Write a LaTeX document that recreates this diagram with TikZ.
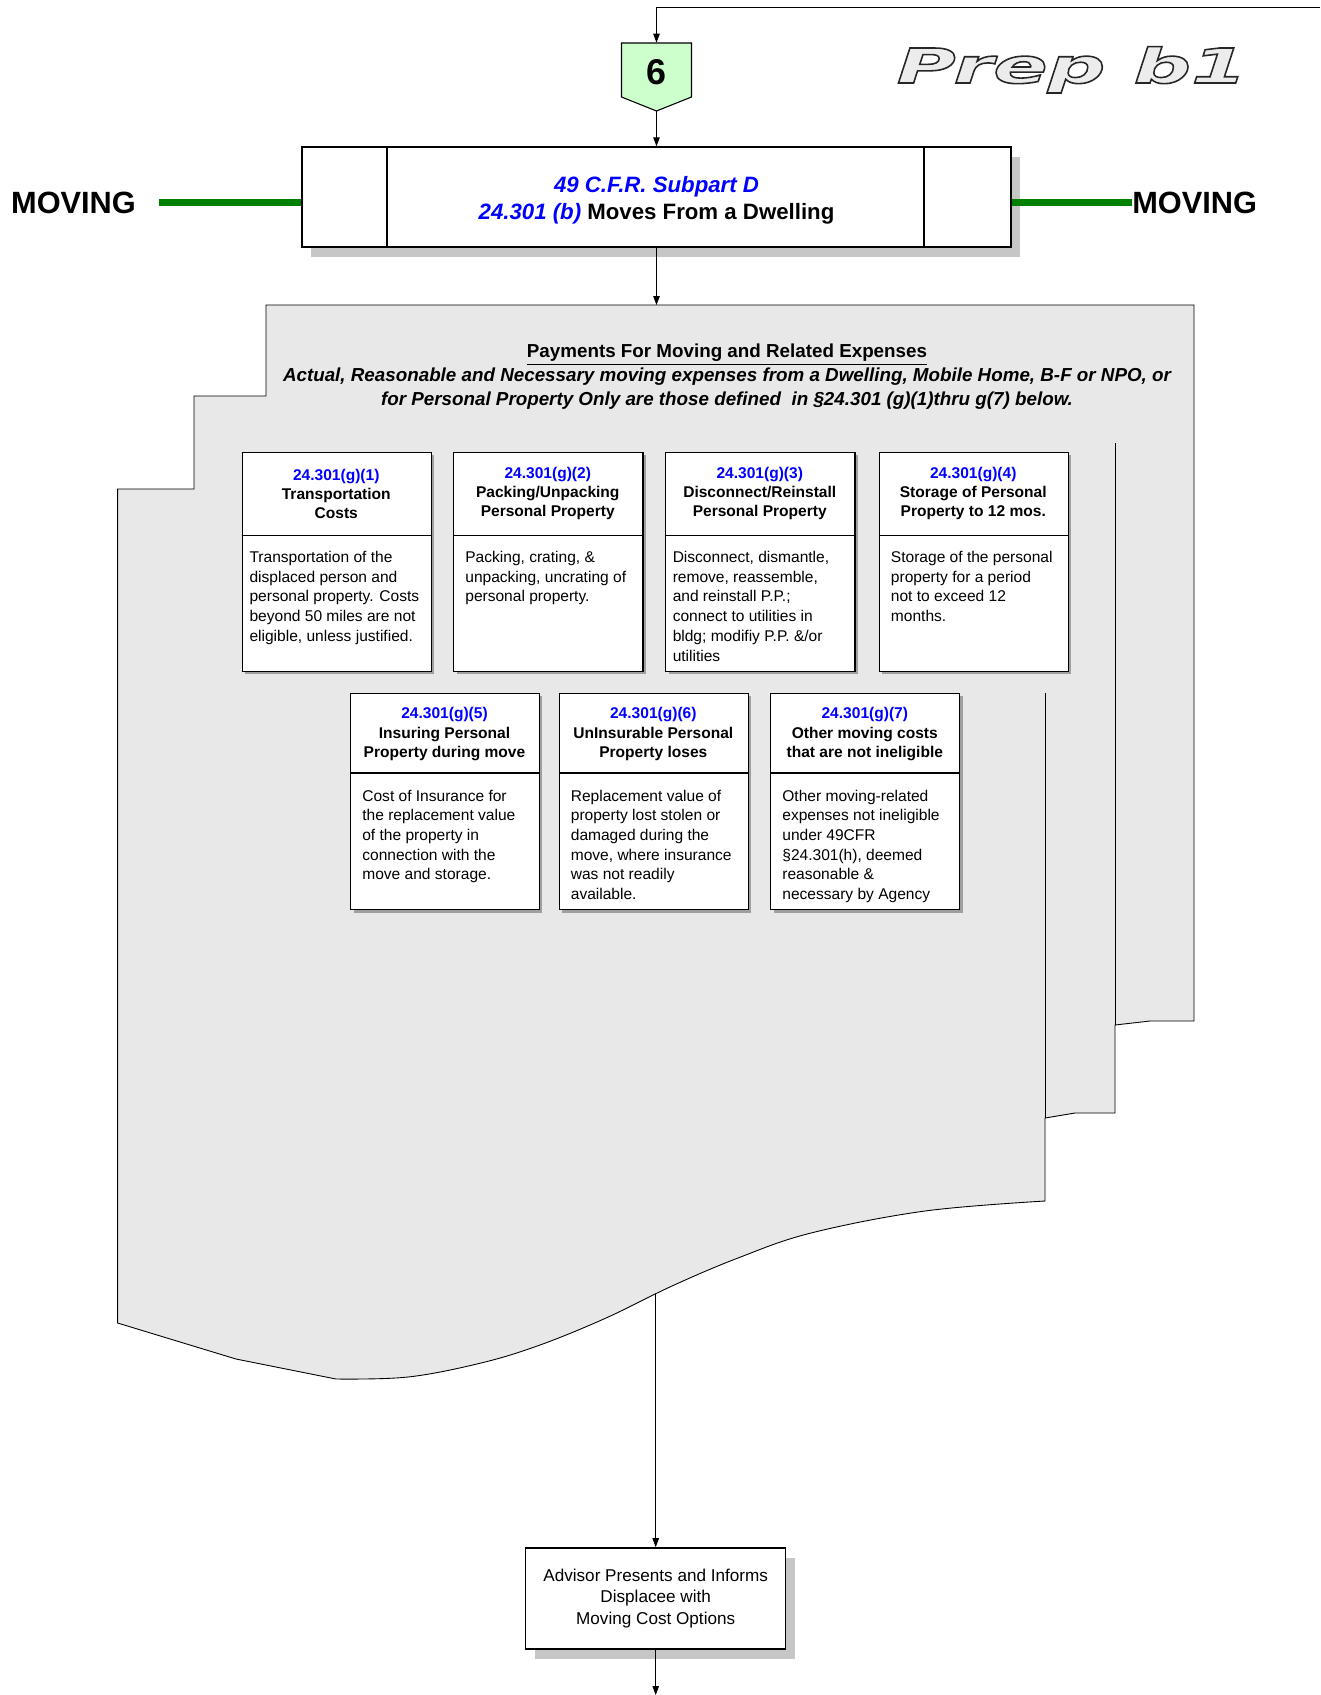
\documentclass[tikz,border=0pt]{standalone}
\usepackage{fontspec}
\setmainfont{Liberation Sans}
\newfontfamily\prepfont{DejaVu Sans}[FakeStretch=1.68]
\usetikzlibrary{arrows.meta,shadows}

\definecolor{pagefill}{RGB}{232,232,232}
\definecolor{badgefill}{RGB}{204,255,204}
\definecolor{movegreen}{RGB}{0,128,0}
\definecolor{refblue}{RGB}{0,0,255}

\tikzset{
  flow/.style={line width=0.5pt, -{Triangle[length=1.8mm,width=1.3mm]}},
  boxshadow/.style={drop shadow={shadow xshift=0.18cm, shadow yshift=-0.2cm, fill=gray!45, opacity=1}},
  cardshadow/.style={drop shadow={shadow xshift=0.06cm, shadow yshift=-0.06cm, fill=gray!75, opacity=1}},
  card/.style={draw, fill=white, line width=0.6pt, anchor=north west, inner sep=0pt, cardshadow},
  topcard/.style={card, minimum width=3.79cm, minimum height=4.38cm},
  lowcard/.style={card, minimum width=3.78cm, minimum height=4.33cm},
  cardhead/.style={align=center, inner sep=0pt, font=\fontsize{8.85}{10.9}\selectfont\bfseries},
  cardtext/.style={align=left, anchor=north west, inner sep=0pt, font=\fontsize{8.85}{11.2}\selectfont},
  movelabel/.style={inner sep=0pt, font=\fontsize{17.5}{20}\selectfont\bfseries},
  greenbar/.style={movegreen, line width=4.5pt},
}

\begin{document}
\begin{tikzpicture}[x=0.02cm, y=-0.02cm]
        \useasboundingbox (0,0) rectangle (1320,1695);

        % Stack of pages (outline, then the partly drawn inner edges)
        \filldraw[fill=pagefill, line width=0.5pt] (266,305) -- (1194,305) -- (1194,1021) -- (1150,1021) -- (1115,1025)
            -- (1115,1113) -- (1075,1113) -- (1045,1118) -- (1045,1201)
            -- plot[smooth, tension=0.6] coordinates {(1045,1201) (925,1211) (811,1233) (738,1258) (672,1286) (606,1318) (540,1345) (481,1363) (408,1377) (336,1379)}
            -- (236,1359) -- (117.6,1323) -- (117.6,489) -- (194,489) -- (194,396) -- (266,396) -- cycle;
        \draw[line width=0.5pt] (1115,443) -- (1115,1025);
        \draw[line width=0.5pt] (1045,693) -- (1045,1118);

        % Off-page badge
        \filldraw[fill=badgefill, line width=0.6pt] (621.5,43) -- (691.5,43) -- (691.5,97) -- (656.5,111) -- (621.5,97) -- cycle;
        \node[inner sep=0pt, minimum width=1.4cm, minimum height=1.16cm, font=\fontsize{20.4}{24}\selectfont\bfseries] (badge) at (656.5,72) {6};
        \coordinate (badgetip) at (656.5,111);
        \coordinate (loopin) at (1320,7);

        % Title
        \node[inner sep=0pt, anchor=base, font=\prepfont\fontsize{27.3}{30}\selectfont\bfseries\itshape] (prep) at (1072,83)
            {\color{gray!15}\special{pdf:literal direct 2 Tr 0.9 w 0.15 G}Prep b1};

        % Main box
        \node[draw, fill=white, line width=0.8pt, minimum width=14.18cm, minimum height=2cm, boxshadow] (title) at (656.5,197) {};
        \node[align=center, inner sep=0pt, font=\fontsize{12.65}{15.2}\selectfont\bfseries] (titletext) at (656.5,200)
            {{\color{refblue}\itshape 49 C.F.R. Subpart D}\\{\color{refblue}\itshape 24.301 (b)} Moves From a Dwelling};
        \draw[line width=0.6pt] (387,147) -- (387,247);
        \draw[line width=0.6pt] (924,147) -- (924,247);

        % MOVING labels
        \node[movelabel] (movL) at (73.5,202.5) {MOVING};
        \node[movelabel, anchor=west] (movR) at (1132,202.5) {MOVING};
        \draw[greenbar, shorten <=0.45cm] (movL.east) -- (movL.east -| title.west);
        \draw[greenbar] (title.east |- movR.west) -- (movR.west);

        % Heading inside the stack
        \node[align=center, inner sep=0pt, font=\fontsize{10.7}{13.5}\selectfont\bfseries] (heading) at (727,376.5)
            {\underline{Payments For Moving and Related Expenses}\\
             {\itshape Actual, Reasonable and Necessary moving expenses from a Dwelling, Mobile Home, B-F or NPO, or}\\
             {\itshape for Personal Property Only are those defined~ in §24.301 (g)(1)thru g(7) below.}};

        % Upper row of cards
        \node[topcard] (g1) at (241.5,451.7) {};
        \draw[line width=0.6pt] (g1.north west) ++(0,84) -- ++(189.5,0);
        \node[cardhead] (g1h) at (336.25,493.7) {\textcolor{refblue}{24.301(g)(1)}\\Transportation\\Costs};
        \node[cardtext] (g1b) at (249.2,551) {Transportation of the\\displaced person and\\personal property. Costs\\beyond 50 miles are not\\eligible, unless justified.};

        \node[topcard] (g2) at (453,451.7) {};
        \draw[line width=0.6pt] (g2.north west) ++(0,84) -- ++(189.5,0);
        \node[cardhead] (g2h) at (547.75,493.7) {\textcolor{refblue}{24.301(g)(2)}\\Packing/Unpacking\\Personal Property};
        \node[cardtext] (g2b) at (465,551) {Packing, crating, \&\\unpacking, uncrating of\\personal property.};

        \node[topcard] (g3) at (665,451.7) {};
        \draw[line width=0.6pt] (g3.north west) ++(0,84) -- ++(189.5,0);
        \node[cardhead] (g3h) at (759.75,493.7) {\textcolor{refblue}{24.301(g)(3)}\\Disconnect/Reinstall\\Personal Property};
        \node[cardtext] (g3b) at (672.4,551) {Disconnect, dismantle,\\remove, reassemble,\\and reinstall P.P.;\\connect to utilities in\\bldg; modifiy P.P. \&/or\\utilities};

        \node[topcard] (g4) at (878.5,451.7) {};
        \draw[line width=0.6pt] (g4.north west) ++(0,84) -- ++(189.5,0);
        \node[cardhead] (g4h) at (973.25,493.7) {\textcolor{refblue}{24.301(g)(4)}\\Storage of Personal\\Property to 12 mos.};
        \node[cardtext] (g4b) at (890.6,551) {Storage of the personal\\property for a period\\not to exceed 12\\months.};

        % Lower row of cards
        \node[lowcard] (g5) at (350,692.7) {};
        \draw[line width=0.6pt] (g5.north west) ++(0,80.3) -- ++(189,0);
        \node[cardhead] (g5h) at (444.5,734) {\textcolor{refblue}{24.301(g)(5)}\\Insuring Personal\\Property during move};
        \node[cardtext] (g5b) at (362,789.6) {Cost of Insurance for\\the replacement value\\of the property in\\connection with the\\move and storage.};

        \node[lowcard] (g6) at (558.8,692.7) {};
        \draw[line width=0.6pt] (g6.north west) ++(0,80.3) -- ++(189,0);
        \node[cardhead] (g6h) at (653.3,734) {\textcolor{refblue}{24.301(g)(6)}\\UnInsurable Personal\\Property loses};
        \node[cardtext] (g6b) at (570.5,789.6) {Replacement value of\\property lost stolen or\\damaged during the\\move, where insurance\\was not readily\\available.};

        \node[lowcard] (g7) at (770.3,692.7) {};
        \draw[line width=0.6pt] (g7.north west) ++(0,80.3) -- ++(189,0);
        \node[cardhead] (g7h) at (864.8,734) {\textcolor{refblue}{24.301(g)(7)}\\Other moving costs\\that are not ineligible};
        \node[cardtext] (g7b) at (782,789.6) {Other moving-related\\expenses not ineligible\\under 49CFR\\§24.301(h), deemed\\reasonable \&\\necessary by Agency};

        % Advisor step
        \node[draw, fill=white, line width=0.8pt, minimum width=5.2cm, minimum height=2.02cm, boxshadow, align=center,
              font=\fontsize{9.75}{12.3}\selectfont] (advisor) at (655.7,1598.4)
            {Advisor Presents and Informs\\Displacee with\\Moving Cost Options};
        \coordinate (stacktop) at (656.5,305);
        \coordinate (stackbot) at (655.7,1294);
        \coordinate (nextstep) at (655.7,1695);

        % Connectors
        \draw[flow] (loopin) -| (badge.north);
        \draw[flow] (badgetip) -- (title.north);
        \draw[flow] (title.south) -- (stacktop);
        \draw[flow] (stackbot) -- (advisor.north);
        \draw[flow] (advisor.south) -- (nextstep);
    \end{tikzpicture}
\end{document}
